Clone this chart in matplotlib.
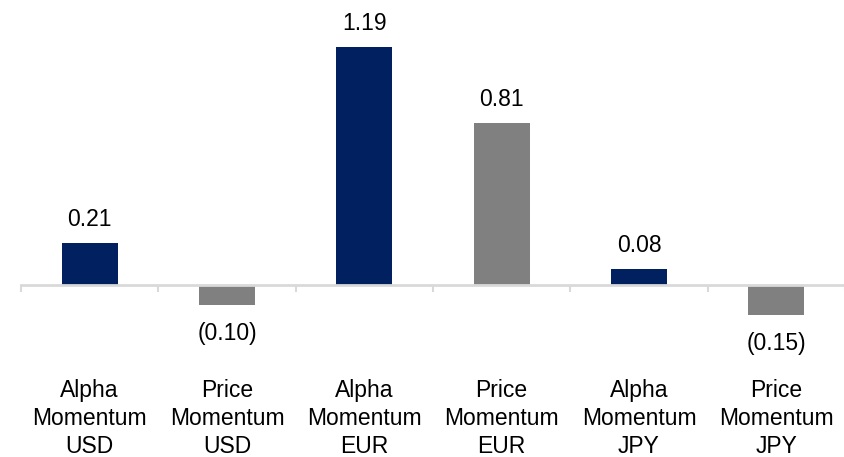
import matplotlib.pyplot as plt

# Momentum factor returns by currency
categories = ["Alpha\nMomentum\nUSD", "Price\nMomentum\nUSD",
              "Alpha\nMomentum\nEUR", "Price\nMomentum\nEUR",
              "Alpha\nMomentum\nJPY", "Price\nMomentum\nJPY"]
values = [0.21, -0.10, 1.19, 0.81, 0.08, -0.15]
bar_colors = ["#002060", "#808080", "#002060", "#808080", "#002060", "#808080"]

plt.rcParams["font.family"] = ["Liberation Sans", "DejaVu Sans"]

fig = plt.figure(figsize=(8.45, 4.57), dpi=100)
ax = fig.add_axes([21 / 845, 0, 824 / 845, 1])

x = list(range(len(values)))
ax.bar(x, values, width=0.41, color=bar_colors, zorder=2)

ax.set_xlim(-0.5, -0.5 + 824 / 139)
ax.set_ylim(-172 / 200, 285 / 200)

# value labels, negatives in parentheses
for xi, v in zip(x, values):
    if v >= 0:
        ax.annotate(f"{v:.2f}", (xi, v), xytext=(0, 12), textcoords="offset points",
                    ha="center", va="baseline", fontsize=16.5)
    else:
        ax.annotate(f"({abs(v):.2f})", (xi, v), xytext=(0, -12), textcoords="offset points",
                    ha="center", va="top", fontsize=16.5)

# category axis sitting on zero
for side in ["left", "right", "top"]:
    ax.spines[side].set_visible(False)
ax.spines["bottom"].set_position(("data", 0))
ax.spines["bottom"].set_color("#d9d9d9")
ax.spines["bottom"].set_linewidth(2)
ax.set_yticks([])

ax.set_xticks(x)
ax.set_xticklabels(categories, fontsize=16.5, linespacing=1.27)
ax.set_xticks([i - 0.5 for i in range(len(values) + 1)], minor=True)
ax.tick_params(axis="x", which="major", length=0, pad=68)
ax.tick_params(axis="x", which="minor", length=5, width=1.5, color="#d9d9d9")

fig.savefig("out.png", dpi=100)
